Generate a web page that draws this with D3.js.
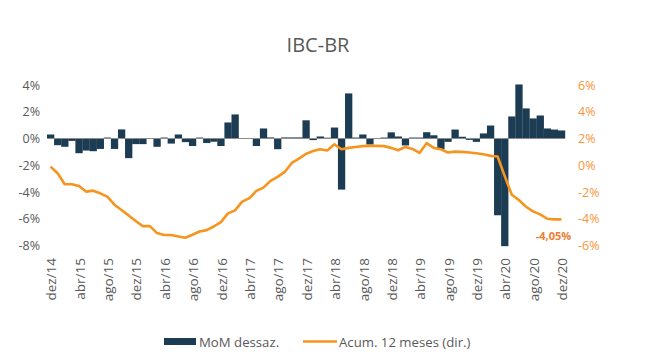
<!DOCTYPE html>
<html>
  <head>
    <meta charset="utf-8" />
    <title>IBC-BR</title>
    <script src="https://d3js.org/d3.v7.min.js"></script>
    <style>
      body {
        margin: 0;
        background: #fff;
      }
      text {
        font-family: "Open Sans", "Noto Sans", sans-serif;
      }
    </style>
  </head>
  <body>

    <svg id="chart">
      <g id="bars"></g>
      <g id="zero"></g>
      <g id="line"></g>
      <g id="yLeft"></g>
      <g id="yRight"></g>
      <g id="x"></g>
      <g id="legend"></g>
    </svg>

    <script>

      var width = 650;
      var height = 361;

      var monthNames = ["jan", "fev", "mar", "abr", "mai", "jun", "jul", "ago", "set", "out", "nov", "dez"];

      // dez/14 .. dez/20
      var months = d3.range(73).map(function(i) {
        var m = (11 + i) % 12;
        var yr = 14 + Math.floor((11 + i) / 12);
        return monthNames[m] + "/" + yr;
      });

      // MoM dessaz. (%), left axis
      var momValues = [
        0.30, -0.50, -0.62, -0.18, -1.10, -0.90, -0.95, -0.78, 0.07, -0.78, 0.68, -1.47,
        -0.42, -0.42, -0.03, -0.62, 0.07, -0.38, 0.30, -0.27, -0.56, 0.07, -0.34, -0.24,
        -0.56, 1.20, 1.80, 0.02, 0.02, -0.56, 0.75, 0.08, -0.80, 0.08, 0.08, 0.08,
        1.36, -0.12, 0.15, 0.06, 0.82, -3.82, 3.37, 0.07, 0.30, -0.45, 0.02, 0.07,
        0.46, 0.15, -0.52, 0.07, 0.07, 0.47, 0.24, -0.80, -0.25, 0.67, 0.13, -0.10,
        -0.25, 0.38, 0.97, -5.74, -8.05, 1.65, 4.04, 2.25, 1.50, 1.72, 0.75, 0.67,
        0.60
      ];

      // Acum. 12 meses (%), right axis
      var accValues = [
        -0.10, -0.60, -1.42, -1.42, -1.55, -1.97, -1.90, -2.10, -2.35, -2.95, -3.35, -3.75,
        -4.17, -4.55, -4.55, -5.07, -5.22, -5.22, -5.32, -5.42, -5.20, -4.95, -4.85, -4.58,
        -4.25, -3.60, -3.37, -2.72, -2.47, -1.92, -1.67, -1.17, -0.87, -0.50, 0.17, 0.50,
        0.85, 1.07, 1.20, 1.10, 1.57, 1.20, 1.30, 1.37, 1.43, 1.45, 1.45, 1.43,
        1.30, 1.12, 1.37, 1.22, 0.92, 1.65, 1.30, 1.20, 0.95, 1.02, 1.00, 0.95,
        0.90, 0.82, 0.70, 0.65, -0.80, -2.20, -2.60, -3.10, -3.45, -3.67, -4.00, -4.05,
        -4.05
      ];

      var leftTicks = [4, 2, 0, -2, -4, -6, -8];
      var rightTicks = [6, 4, 2, 0, -2, -4, -6];
      var xTickLabels = months.filter(function(d, i) { return i % 4 === 0; });

      var lastLabel = "-4,05%";
      var barColor = "#1b3c52";
      var lineColor = "#f7941d";

      function pct(d) {
        return d + "%";
      }

      var svg = d3.select("#chart")
        .attr("width", width)
        .attr("height", height);

      var x = d3.scaleBand()
        .domain(months)
        .range([47, 565])
        .padding(0);

      var yL = d3.scaleLinear()
        .domain([-8, 4])
        .range([245.5, 85]);

      var yR = d3.scaleLinear()
        .domain([-6, 6])
        .range([245.5, 85]);

      // title
      svg.append("text")
        .attr("x", 318)
        .attr("y", 52)
        .attr("text-anchor", "middle")
        .style("font-size", "20px")
        .style("fill", "#595959")
        .text("IBC-BR");

      // bars
      svg.select("#bars").selectAll("rect")
        .data(momValues)
        .join("rect")
        .attr("x", function(d, i) { return x(months[i]); })
        .attr("width", x.bandwidth() + 0.2)
        .attr("y", function(d) { return yL(Math.max(0, d)); })
        .attr("height", function(d) { return Math.abs(yL(d) - yL(0)); })
        .style("fill", barColor);

      // zero line
      svg.select("#zero").append("line")
        .attr("x1", x.range()[0])
        .attr("x2", x.range()[1])
        .attr("y1", yL(0))
        .attr("y2", yL(0))
        .style("stroke", "#8c8c8c")
        .style("stroke-width", 1.2);

      // accumulated line
      var line = d3.line()
        .x(function(d, i) { return x(months[i]) + x.bandwidth() / 2; })
        .y(function(d) { return yR(d); });

      svg.select("#line").append("path")
        .datum(accValues)
        .attr("d", line)
        .style("fill", "none")
        .style("stroke", lineColor)
        .style("stroke-width", 2.6)
        .style("stroke-linejoin", "round");

      svg.select("#line").append("text")
        .attr("x", x(months[72]) + x.bandwidth() / 2 - 8)
        .attr("y", yR(accValues[72]) + 21)
        .attr("text-anchor", "middle")
        .style("font-size", "11px")
        .style("font-weight", "bold")
        .style("fill", "#ed7d31")
        .text(lastLabel);

      // left axis
      var yLeftAxis = d3.axisLeft(yL)
        .tickValues(leftTicks)
        .tickSize(0)
        .tickPadding(0)
        .tickFormat(pct);

      svg.select("#yLeft")
        .attr("transform", "translate(40, 0)")
        .call(yLeftAxis)
        .call(function(g) { g.select(".domain").remove(); })
        .selectAll("text")
        .style("font-size", "12.5px")
        .style("fill", "#595959")
        .style("font-family", "'Open Sans', sans-serif");

      // right axis
      var yRightAxis = d3.axisRight(yR)
        .tickValues(rightTicks)
        .tickSize(0)
        .tickPadding(0)
        .tickFormat(pct);

      svg.select("#yRight")
        .attr("transform", "translate(578, 0)")
        .call(yRightAxis)
        .call(function(g) { g.select(".domain").remove(); })
        .selectAll("text")
        .style("font-size", "12.5px")
        .style("fill", "#f7953a")
        .style("font-family", "'Open Sans', sans-serif");

      // x axis, vertical labels
      var xAxis = d3.axisBottom(x)
        .tickValues(xTickLabels)
        .tickSize(0)
        .tickPadding(0);

      svg.select("#x")
        .attr("transform", "translate(1, 256)")
        .call(xAxis)
        .call(function(g) { g.select(".domain").remove(); })
        .selectAll("text")
        .attr("transform", "rotate(-90)")
        .attr("x", -2)
        .attr("y", 0)
        .attr("dy", "0.35em")
        .attr("text-anchor", "end")
        .style("font-size", "13.5px")
        .style("fill", "#595959")
        .style("font-family", "'Open Sans', sans-serif");

      // legend
      var legend = svg.select("#legend");

      legend.append("rect")
        .attr("x", 164)
        .attr("y", 338)
        .attr("width", 32)
        .attr("height", 7)
        .style("fill", barColor);

      legend.append("text")
        .attr("x", 199)
        .attr("y", 342)
        .attr("dy", "0.35em")
        .style("font-size", "13.2px")
        .style("fill", "#595959")
        .text("MoM dessaz.");

      legend.append("line")
        .attr("x1", 303)
        .attr("x2", 337)
        .attr("y1", 341.5)
        .attr("y2", 341.5)
        .style("stroke", lineColor)
        .style("stroke-width", 2.6);

      legend.append("text")
        .attr("x", 339)
        .attr("y", 342)
        .attr("dy", "0.35em")
        .style("font-size", "13.2px")
        .style("fill", "#595959")
        .text("Acum. 12 meses (dir.)");

    </script>
  </body>
</html>
